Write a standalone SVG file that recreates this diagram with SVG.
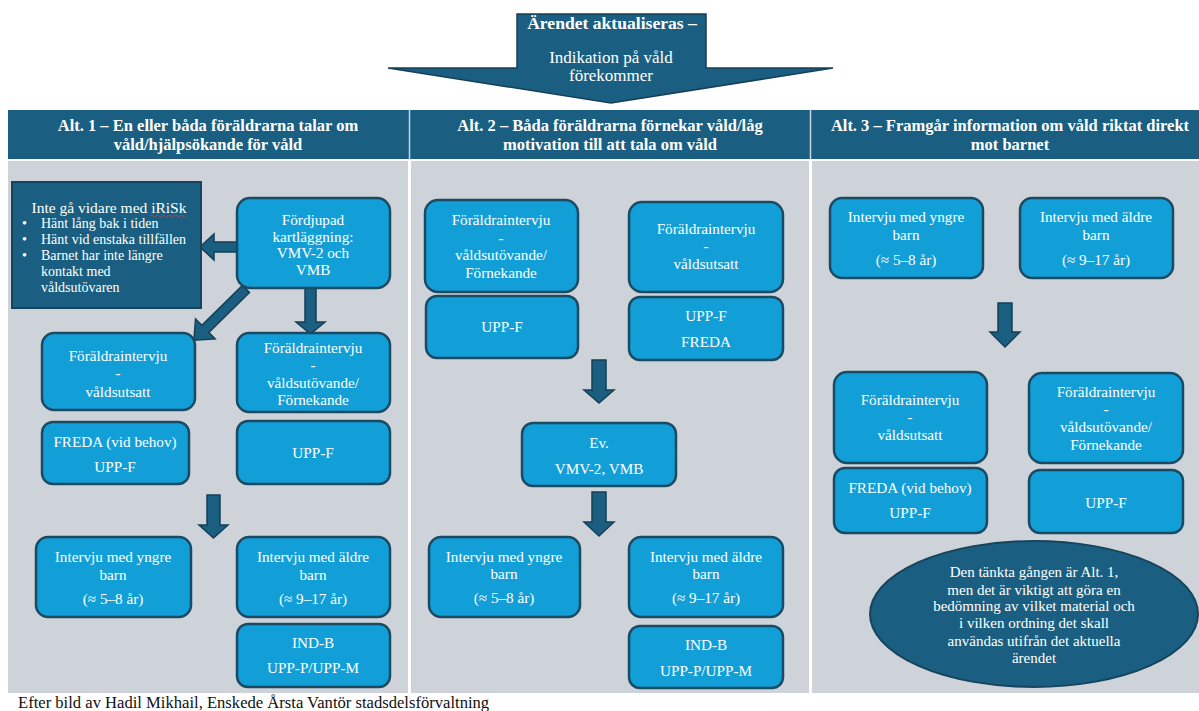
<svg xmlns="http://www.w3.org/2000/svg" width="1199" height="711" viewBox="0 0 1199 711">
<style>
text{font-family:"Liberation Serif","Times New Roman",serif;fill:#fff;text-anchor:middle}
.hd{font-weight:bold;font-size:16.5px}
.bx{font-size:15.2px}
.box{fill:#129fd7;stroke:#1b4a63;stroke-width:2.5}
.dark{fill:#1a5f82;stroke:#15445c;stroke-width:2}
.arr{fill:#1a5f82;stroke:#163f55;stroke-width:1.5;stroke-linejoin:miter}
.panel{fill:#ced3da}
.cap{fill:#111;text-anchor:start;font-size:16.6px}
</style>
<rect width="1199" height="711" fill="#fff"/>

<!-- top arrow -->
<g id="start">
<polygon class="arr" points="517,14 706,14 706,68 833,68 611,103 388,68 517,68"/>
<text x="612" y="29" style="font-weight:bold;font-size:17.6px">Ärendet aktualiseras –</text>
<text x="611" y="63" style="font-size:17px">Indikation på våld</text>
<text x="611" y="81" style="font-size:17px">förekommer</text>
</g>

<!-- headers -->
<g id="headers">
<rect x="8" y="110" width="1191" height="49" fill="#1a5f82"/>
<line x1="409.5" y1="110" x2="409.5" y2="159" stroke="#c9d3da" stroke-width="1.5"/>
<line x1="810.5" y1="110" x2="810.5" y2="159" stroke="#c9d3da" stroke-width="1.5"/>
<text class="hd" x="208" y="131">Alt. 1 – En eller båda föräldrarna talar om</text>
<text class="hd" x="208" y="150">våld/hjälpsökande för våld</text>
<text class="hd" x="610" y="131">Alt. 2 – Båda föräldrarna förnekar våld/låg</text>
<text class="hd" x="610" y="150">motivation till att tala om våld</text>
<text class="hd" x="1010" y="131">Alt. 3 – Framgår information om våld riktat direkt</text>
<text class="hd" x="1010" y="150">mot barnet</text>
</g>

<!-- panels -->
<g id="panels">
<rect class="panel" x="8" y="161" width="400" height="532"/>
<rect class="panel" x="411" y="161" width="398" height="532"/>
<rect class="panel" x="812" y="161" width="387" height="532"/>
</g>

<!-- connectors -->
<g id="connectors">
<polygon class="arr" points="237,242 214,242 214,234 200,247 214,260 214,252 237,252"/>
<polygon class="arr" transform="translate(246,289) rotate(135.5)" points="0,-5 57,-5 57,-14 73,0 57,14 57,5 0,5"/>
<polygon class="arr" points="305,288 316,288 316,322 325,322 310.5,334 296,322 305,322"/>
<polygon class="arr" points="207,495 220,495 220,525 228,525 213.5,538 199,525 207,525"/>
<polygon class="arr" points="592,360 606,360 606,390 614,390 599,403 584,390 592,390"/>
<polygon class="arr" points="592,492 606,492 606,522 614,522 599,536 584,522 592,522"/>
<polygon class="arr" points="998,303 1012,303 1012,332 1020,332 1005,347 990,332 998,332"/>
</g>

<!-- column 1 -->
<g id="a1-stop">
<rect class="dark" x="12" y="182" width="189" height="126"/>
<text x="109" y="213" style="font-size:15.5px">Inte gå vidare med iRiSk</text>
<path d="M150,216 q1.5,-2 3,0 t3,0 t3,0 t3,0 t3,0 t3,0 t3,0 t3,0 t3,0 t3,0 t3,0 t3,0" fill="none" stroke="#e0302a" stroke-width="1"/>
<g style="font-size:14px">
<text x="22" y="228" style="text-anchor:start">•</text>
<text x="41" y="228" style="text-anchor:start">Hänt lång bak i tiden</text>
<text x="22" y="244" style="text-anchor:start">•</text>
<text x="41" y="244" style="text-anchor:start">Hänt vid enstaka tillfällen</text>
<text x="22" y="260" style="text-anchor:start">•</text>
<text x="41" y="260" style="text-anchor:start">Barnet har inte längre</text>
<text x="41" y="276" style="text-anchor:start">kontakt med</text>
<text x="41" y="292" style="text-anchor:start">våldsutövaren</text>
</g>
</g>
<g id="a1-fordjupad">
<rect class="box" x="237" y="198" width="153" height="90" rx="13"/>
<text class="bx" x="313" y="225">Fördjupad</text>
<text class="bx" x="313" y="242">kartläggning:</text>
<text class="bx" x="313" y="258">VMV-2 och</text>
<text class="bx" x="313" y="275">VMB</text>
</g>
<g id="a1-utsatt">
<rect class="box" x="42" y="333" width="153" height="77" rx="12"/>
<text class="bx" x="118" y="361">Föräldraintervju</text>
<text class="bx" x="118" y="378">-</text>
<text class="bx" x="118" y="397">våldsutsatt</text>
</g>
<g id="a1-utovande">
<rect class="box" x="237" y="333" width="153" height="79" rx="12"/>
<text class="bx" x="313" y="353">Föräldraintervju</text>
<text class="bx" x="313" y="370">-</text>
<text class="bx" x="313" y="388">våldsutövande/</text>
<text class="bx" x="313" y="405">Förnekande</text>
</g>
<g id="a1-freda">
<rect class="box" x="42" y="422" width="147" height="62" rx="11"/>
<text class="bx" x="115" y="447">FREDA (vid behov)</text>
<text class="bx" x="115" y="472">UPP-F</text>
</g>
<g id="a1-uppf">
<rect class="box" x="237" y="421" width="153" height="63" rx="11"/>
<text class="bx" x="313" y="458">UPP-F</text>
</g>
<g id="a1-yngre">
<rect class="box" x="36" y="537" width="155" height="80" rx="12"/>
<text class="bx" x="113" y="562">Intervju med yngre</text>
<text class="bx" x="113" y="580">barn</text>
<text class="bx" x="113" y="604">(≈ 5–8 år)</text>
</g>
<g id="a1-aldre">
<rect class="box" x="237" y="537" width="153" height="80" rx="12"/>
<text class="bx" x="313" y="562">Intervju med äldre</text>
<text class="bx" x="313" y="580">barn</text>
<text class="bx" x="313" y="604">(≈ 9–17 år)</text>
</g>
<g id="a1-indb">
<rect class="box" x="237" y="624" width="153" height="63" rx="11"/>
<text class="bx" x="313" y="648">IND-B</text>
<text class="bx" x="313" y="673">UPP-P/UPP-M</text>
</g>

<!-- column 2 -->
<g id="a2-utovande">
<rect class="box" x="425" y="200" width="153" height="92" rx="13"/>
<text class="bx" x="501" y="225">Föräldraintervju</text>
<text class="bx" x="501" y="243">-</text>
<text class="bx" x="501" y="260">våldsutövande/</text>
<text class="bx" x="501" y="278">Förnekande</text>
</g>
<g id="a2-utsatt">
<rect class="box" x="629" y="202" width="154" height="90" rx="13"/>
<text class="bx" x="706" y="234">Föräldraintervju</text>
<text class="bx" x="706" y="251">-</text>
<text class="bx" x="706" y="269">våldsutsatt</text>
</g>
<g id="a2-uppf">
<rect class="box" x="426" y="296" width="152" height="62" rx="11"/>
<text class="bx" x="502" y="332">UPP-F</text>
</g>
<g id="a2-uppf-freda">
<rect class="box" x="629" y="297" width="154" height="63" rx="11"/>
<text class="bx" x="706" y="321">UPP-F</text>
<text class="bx" x="706" y="347">FREDA</text>
</g>
<g id="a2-ev">
<rect class="box" x="522" y="423" width="154" height="63" rx="11"/>
<text class="bx" x="599" y="448">Ev.</text>
<text class="bx" x="599" y="474">VMV-2, VMB</text>
</g>
<g id="a2-yngre">
<rect class="box" x="429" y="537" width="151" height="80" rx="12"/>
<text class="bx" x="504" y="562">Intervju med yngre</text>
<text class="bx" x="504" y="579">barn</text>
<text class="bx" x="504" y="603">(≈ 5–8 år)</text>
</g>
<g id="a2-aldre">
<rect class="box" x="629" y="537" width="154" height="80" rx="12"/>
<text class="bx" x="706" y="562">Intervju med äldre</text>
<text class="bx" x="706" y="579">barn</text>
<text class="bx" x="706" y="603">(≈ 9–17 år)</text>
</g>
<g id="a2-indb">
<rect class="box" x="629" y="626" width="154" height="62" rx="11"/>
<text class="bx" x="706" y="650">IND-B</text>
<text class="bx" x="706" y="676">UPP-P/UPP-M</text>
</g>

<!-- column 3 -->
<g id="a3-yngre">
<rect class="box" x="830" y="198" width="153" height="80" rx="12"/>
<text class="bx" x="906" y="222">Intervju med yngre</text>
<text class="bx" x="906" y="240">barn</text>
<text class="bx" x="906" y="265">(≈ 5–8 år)</text>
</g>
<g id="a3-aldre">
<rect class="box" x="1020" y="198" width="153" height="80" rx="12"/>
<text class="bx" x="1096" y="222">Intervju med äldre</text>
<text class="bx" x="1096" y="240">barn</text>
<text class="bx" x="1096" y="265">(≈ 9–17 år)</text>
</g>
<g id="a3-utsatt">
<rect class="box" x="834" y="372" width="153" height="91" rx="13"/>
<text class="bx" x="910" y="405">Föräldraintervju</text>
<text class="bx" x="910" y="422">-</text>
<text class="bx" x="910" y="440">våldsutsatt</text>
</g>
<g id="a3-utovande">
<rect class="box" x="1029" y="373" width="154" height="90" rx="13"/>
<text class="bx" x="1106" y="397">Föräldraintervju</text>
<text class="bx" x="1106" y="414">-</text>
<text class="bx" x="1106" y="432">våldsutövande/</text>
<text class="bx" x="1106" y="450">Förnekande</text>
</g>
<g id="a3-freda">
<rect class="box" x="834" y="468" width="153" height="65" rx="11"/>
<text class="bx" x="910" y="493">FREDA (vid behov)</text>
<text class="bx" x="910" y="518">UPP-F</text>
</g>
<g id="a3-uppf">
<rect class="box" x="1029" y="470" width="154" height="63" rx="11"/>
<text class="bx" x="1106" y="508">UPP-F</text>
</g>
<g id="a3-note">
<ellipse class="dark" cx="1034" cy="614" rx="164" ry="73"/>
<text x="1034" y="577" style="font-size:15px">Den tänkta gången är Alt. 1,</text>
<text x="1034" y="595" style="font-size:15px">men det är viktigt att göra en</text>
<text x="1034" y="611" style="font-size:15px">bedömning av vilket material och</text>
<text x="1034" y="628" style="font-size:15px">i vilken ordning det skall</text>
<text x="1034" y="646" style="font-size:15px">användas utifrån det aktuella</text>
<text x="1034" y="663" style="font-size:15px">ärendet</text>
</g>

<text class="cap" x="18" y="708">Efter bild av Hadil Mikhail, Enskede Årsta Vantör stadsdelsförvaltning</text>
</svg>
